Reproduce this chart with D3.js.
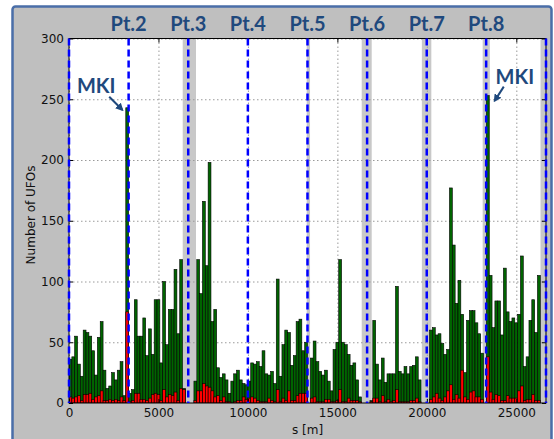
<!DOCTYPE html>
<html>
<head>
<meta charset="utf-8">
<script src="https://cdn.jsdelivr.net/npm/d3@7"></script>
<style>
  body { margin: 0; background: #fff; }
  svg { display: block; }
</style>
</head>
<body>
<div id="chart"></div>
<script>
// ring length and interaction points (m)
const circumference = 26659;
const ipPositions = [0, 3332, 6664, 9997, 13329, 16661, 19994, 23315, 26659];
const ipLabels = ['', 'Pt.2', 'Pt.3', 'Pt.4', 'Pt.5', 'Pt.6', 'Pt.7', 'Pt.8', ''];
// shaded regions [from, to] in m
const bands = [[6355, 7098], [13285, 13470], [16359, 16918], [19720, 20250], [23120, 23520], [26352, 26659]];

// UFO counts per bin (168 bins round the ring)
const totalUFOs = [
  36, 38, 55, 32, 22, 60, 58, 55, 43, 23, 54, 67, 27, 12, 14, 25, 19, 27, 34, 6, 243,
  8, 11, 85, 55, 55, 70, 39, 61, 40, 85, 85, 33, 100, 48, 77, 77, 110, 57, 118, 12,
  0, 0, 0,
  18, 118, 90, 166, 113, 198, 67, 77, 29, 21, 24, 19, 8, 18, 24, 27, 19, 16, 15,
  18, 33, 32, 34, 30, 43, 24, 23, 26, 16, 102, 22, 48, 60, 58, 31, 39, 67, 69, 43, 50,
  0,
  37, 51, 34, 26, 23, 27, 18, 10, 44, 50, 118, 50, 48, 40, 31, 33, 19, 5,
  0, 0, 0, 2,
  68, 32, 19, 37, 17, 24, 24, 24, 96, 26, 24, 30, 24, 30, 31, 38, 19,
  0, 0, 0,
  60, 62, 56, 57, 49, 40, 44, 177, 130, 82, 101, 73, 25, 68, 76, 76, 66, 57, 41, 0,
  253,
  105, 62, 84, 84, 56, 111, 75, 67, 70, 66, 73, 121, 30, 38, 68, 85, 58, 105,
  0, 0
];
const redUFOs = [
  5, 4, 5, 6, 2, 7, 7, 8, 3, 5, 6, 10, 2, 2, 3, 2, 3, 2, 5, 2, 75,
  1, 2, 8, 8, 3, 3, 2, 4, 7, 8, 7, 2, 11, 5, 7, 6, 9, 2, 12, 11,
  0, 0, 0,
  2, 10, 10, 16, 14, 13, 10, 5, 6, 2, 5, 1, 1, 0, 1, 2, 2, 5, 3,
  4, 5, 4, 2, 1, 1, 1, 4, 2, 1, 11, 1, 4, 2, 10, 2, 2, 6, 8, 8, 8,
  0,
  4, 5, 1, 1, 1, 3, 3, 1, 1, 2, 11, 1, 1, 4, 2, 2, 2, 1,
  0, 0, 0, 1,
  4, 4, 1, 6, 1, 3, 1, 2, 11, 1, 1, 1, 1, 2, 2, 4, 1,
  0, 0, 0,
  3, 5, 8, 4, 2, 5, 10, 15, 3, 7, 4, 27, 5, 3, 9, 10, 5, 5, 3, 0,
  38,
  9, 3, 7, 6, 2, 2, 6, 4, 4, 4, 10, 14, 2, 3, 3, 7, 2, 2,
  0, 0
];
const mkiBins = [20, 147];
const xTicks = [0, 5000, 10000, 15000, 20000, 25000];
const yTicks = [0, 50, 100, 150, 200, 250, 300];

const W = 554, H = 439;
const m = { left: 69, right: 546, top: 38.5, bottom: 403 };
const binWidth = circumference / totalUFOs.length;

const svg = d3.select('#chart').append('svg')
  .attr('width', W).attr('height', H);

// slide style frame
svg.append('rect')
  .attr('x', 12.5).attr('y', 6.5).attr('width', 539).attr('height', 445).attr('rx', 3)
  .attr('fill', '#bfbfbf').attr('stroke', '#4a6ea8').attr('stroke-width', 2.5);

const x = d3.scaleLinear().domain([0, circumference]).range([m.left, m.right]);
const y = d3.scaleLinear().domain([0, 300]).range([m.bottom, m.top]);

svg.append('rect')
  .attr('x', m.left).attr('y', m.top)
  .attr('width', m.right - m.left).attr('height', m.bottom - m.top)
  .attr('fill', '#fff');

svg.append('defs').append('clipPath').attr('id', 'plot')
  .append('rect')
  .attr('x', m.left).attr('y', m.top)
  .attr('width', m.right - m.left).attr('height', m.bottom - m.top);

const plot = svg.append('g').attr('clip-path', 'url(#plot)');

plot.selectAll('rect.band').data(bands).enter().append('rect')
  .attr('class', 'band')
  .attr('x', d => x(d[0])).attr('width', d => x(d[1]) - x(d[0]))
  .attr('y', m.top).attr('height', m.bottom - m.top)
  .attr('fill', '#c8c8c8');

// dotted grid
const grid = plot.append('g')
  .attr('stroke', '#9a9a9a').attr('stroke-width', 1).attr('stroke-dasharray', '1.5,2.5');
grid.selectAll('line.gy').data(yTicks).enter().append('line')
  .attr('x1', m.left).attr('x2', m.right)
  .attr('y1', d => y(d) + 0.5).attr('y2', d => y(d) + 0.5);
grid.selectAll('line.gx').data(xTicks).enter().append('line')
  .attr('y1', m.top).attr('y2', m.bottom)
  .attr('x1', d => x(d) + 0.5).attr('x2', d => x(d) + 0.5);

const bins = totalUFOs.map((v, i) => ({ i: i, total: v, red: redUFOs[i] }));

plot.selectAll('rect.tot').data(bins.filter(d => d.total > 0)).enter().append('rect')
  .attr('class', 'tot')
  .attr('x', d => x(d.i * binWidth))
  .attr('width', d => x((d.i + 1) * binWidth) - x(d.i * binWidth))
  .attr('y', d => y(d.total))
  .attr('height', d => y(0) - y(d.total))
  .attr('fill', '#006400').attr('stroke', '#000').attr('stroke-width', 0.6);

plot.selectAll('rect.red').data(bins.filter(d => d.red > 0)).enter().append('rect')
  .attr('class', 'red')
  .attr('x', d => x(d.i * binWidth))
  .attr('width', d => x((d.i + 1) * binWidth) - x(d.i * binWidth))
  .attr('y', d => y(d.red))
  .attr('height', d => y(0) - y(d.red))
  .attr('fill', '#ff0000').attr('stroke', '#000').attr('stroke-width', 0.6);

// axes, matplotlib style ticks pointing inward
const axisFont = '"DejaVu Sans", sans-serif';
const gLeft = svg.append('g').attr('transform', `translate(${m.left},0)`)
  .call(d3.axisLeft(y).tickValues(yTicks).tickSize(-4).tickPadding(5));
const gBottom = svg.append('g').attr('transform', `translate(0,${m.bottom})`)
  .call(d3.axisBottom(x).tickValues(xTicks).tickFormat(d3.format('d')).tickSize(-4).tickPadding(5));
svg.append('g').attr('transform', `translate(${m.right},0)`)
  .call(d3.axisRight(y).tickValues(yTicks).tickSize(-4).tickFormat(''));
svg.append('g').attr('transform', `translate(0,${m.top})`)
  .call(d3.axisTop(x).tickValues(xTicks).tickSize(-4).tickFormat(''));
svg.selectAll('.domain').remove();
svg.selectAll('.tick line').attr('stroke', '#000');
[gLeft, gBottom].forEach(g => g.selectAll('text')
  .attr('font-family', axisFont).attr('font-size', 12).attr('fill', '#111'));

svg.append('rect')
  .attr('x', m.left).attr('y', m.top)
  .attr('width', m.right - m.left).attr('height', m.bottom - m.top)
  .attr('fill', 'none').attr('stroke', '#000').attr('stroke-width', 1);

// interaction point markers, drawn over the frame
svg.selectAll('line.ip').data(ipPositions).enter().append('line')
  .attr('class', 'ip')
  .attr('x1', d => x(d)).attr('x2', d => x(d))
  .attr('y1', m.top).attr('y2', m.bottom)
  .attr('stroke', '#0000ff').attr('stroke-width', 2.5).attr('stroke-dasharray', '7,4');

svg.append('text')
  .attr('x', (m.left + m.right) / 2).attr('y', 434)
  .attr('text-anchor', 'middle')
  .attr('font-family', axisFont).attr('font-size', 12).attr('fill', '#111')
  .text('s [m]');

svg.append('text')
  .attr('transform', 'translate(35,215) rotate(-90)')
  .attr('text-anchor', 'middle')
  .attr('font-family', axisFont).attr('font-size', 12).attr('fill', '#111')
  .text('Number of UFOs');

// point labels
const noteColor = '#1f497d';
svg.selectAll('text.pt').data(ipPositions.filter((d, i) => ipLabels[i])).enter().append('text')
  .attr('class', 'pt')
  .attr('x', d => x(d)).attr('y', 31)
  .attr('text-anchor', 'middle')
  .attr('font-family', 'Lato, sans-serif').attr('font-weight', 'bold')
  .attr('font-size', 20).attr('fill', noteColor)
  .text(d => ipLabels[ipPositions.indexOf(d)]);

// MKI annotations
svg.append('defs').append('marker')
  .attr('id', 'arrow')
  .attr('markerWidth', 4).attr('markerHeight', 4)
  .attr('refX', 3).attr('refY', 2)
  .attr('orient', 'auto')
  .append('path')
    .attr('d', 'M0,0 L4,2 L0,4 Z')
    .attr('fill', noteColor);

const notes = [
  { bin: mkiBins[0], tx: -31, ty: -15, ax: [-18, -11], bx: [-5, 2] },
  { bin: mkiBins[1], tx: 27, ty: -12, ax: [16, -9], bx: [7, 5] }
];
notes.forEach(n => {
  const cx = x((n.bin + 0.5) * binWidth);
  const cy = y(totalUFOs[n.bin]);
  svg.append('text')
    .attr('x', cx + n.tx).attr('y', cy + n.ty)
    .attr('text-anchor', 'middle')
    .attr('font-family', 'Lato, sans-serif').attr('font-weight', 'bold')
    .attr('font-size', 20).attr('fill', noteColor)
    .text('MKI');
  svg.append('line')
    .attr('x1', cx + n.ax[0]).attr('y1', cy + n.ax[1])
    .attr('x2', cx + n.bx[0]).attr('y2', cy + n.bx[1])
    .attr('stroke', noteColor).attr('stroke-width', 2)
    .attr('marker-end', 'url(#arrow)');
});
</script>
</body>
</html>
